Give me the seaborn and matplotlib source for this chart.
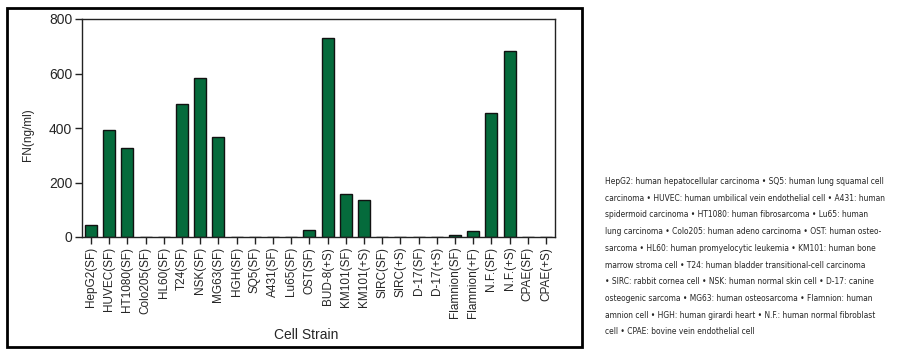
import matplotlib
matplotlib.use("Agg")
import matplotlib.pyplot as plt
import seaborn as sns
import pandas as pd
from matplotlib.patches import Rectangle

categories = ["HepG2(SF)", "HUVEC(SF)", "HT1080(SF)", "Colo205(SF)", "HL60(SF)", "T24(SF)",
              "NSK(SF)", "MG63(SF)", "HGH(SF)", "SQ5(SF)", "A431(SF)", "Lu65(SF)", "OST(SF)",
              "BUD-8(+S)", "KM101(SF)", "KM101(+S)", "SIRC(SF)", "SIRC(+S)", "D-17(SF)",
              "D-17(+S)", "Flamnion(SF)", "Flamnion(+F)", "N.F.(SF)", "N.F.(+S)", "CPAE(SF)", "CPAE(+S)"]
values = [44, 392, 327, 0, 0, 489, 585, 367, 0, 0, 0, 0, 27, 730, 159, 135, 0, 0, 0, 0,
          6, 23, 455, 684, 0, 0]
y_ticks = [0, 200, 400, 600, 800]

note_lines = [
    "HepG2: human hepatocellular carcinoma \u2022 SQ5: human lung squamal cell",
    "carcinoma \u2022 HUVEC: human umbilical vein endothelial cell \u2022 A431: human",
    "spidermoid carcinoma \u2022 HT1080: human fibrosarcoma \u2022 Lu65: human",
    "lung carcinoma \u2022 Colo205: human adeno carcinoma \u2022 OST: human osteo-",
    "sarcoma \u2022 HL60: human promyelocytic leukemia \u2022 KM101: human bone",
    "marrow stroma cell \u2022 T24: human bladder transitional-cell carcinoma",
    "\u2022 SIRC: rabbit cornea cell \u2022 NSK: human normal skin cell \u2022 D-17: canine",
    "osteogenic sarcoma \u2022 MG63: human osteosarcoma \u2022 Flamnion: human",
    "amnion cell \u2022 HGH: human girardi heart \u2022 N.F.: human normal fibroblast",
    "cell \u2022 CPAE: bovine vein endothelial cell",
]

sns.set_style("ticks")
plt.rcParams['font.family'] = ['Liberation Sans', 'DejaVu Sans']

df = pd.DataFrame({"cell": categories, "fn": values})

fig = plt.figure(figsize=(9.06, 3.58), dpi=100)
ax = fig.add_axes([82/906, 1-237/358, (555-82)/906, (237-19)/358])
sns.barplot(data=df, x="cell", y="fn", order=categories, color="#056b3c",
            saturation=1, width=0.66, edgecolor="#111111", linewidth=1.0, ax=ax)
ax.set_xlim(-0.5, len(categories) - 0.5)
ax.set_ylim(0, 800)
ax.set_yticks(y_ticks)
ax.set_yticklabels([str(v) for v in y_ticks], fontsize=10)
ax.set_xticks(range(len(categories)))
ax.set_xticklabels(categories, rotation=90, fontsize=8.5)
ax.tick_params(axis="both", direction="out", length=5, width=1, color="#222222", pad=2)
for s in ax.spines.values():
    s.set_visible(True)
    s.set_linewidth(1.0)
    s.set_color("#222222")
ax.set_ylabel("")
ax.set_xlabel("")
fig.text(28/906, 1-135/358, "FN(ng/ml)", rotation=90, ha="center", va="center", fontsize=8.5)
fig.text(306/906, 1-335/358, "Cell Strain", ha="center", va="center", fontsize=10)

fig.patches.append(Rectangle((7/906, 1-347/358), 575/906, 339/358, transform=fig.transFigure,
                             fill=False, edgecolor="black", linewidth=2.0))

fig.text(605/906, 1-177/358, "\n".join(note_lines), ha="left", va="top",
         fontsize=6.0, linespacing=2.1, fontstretch="condensed",
         family=['DejaVu Sans'])

fig.savefig("out.png", dpi=100)
